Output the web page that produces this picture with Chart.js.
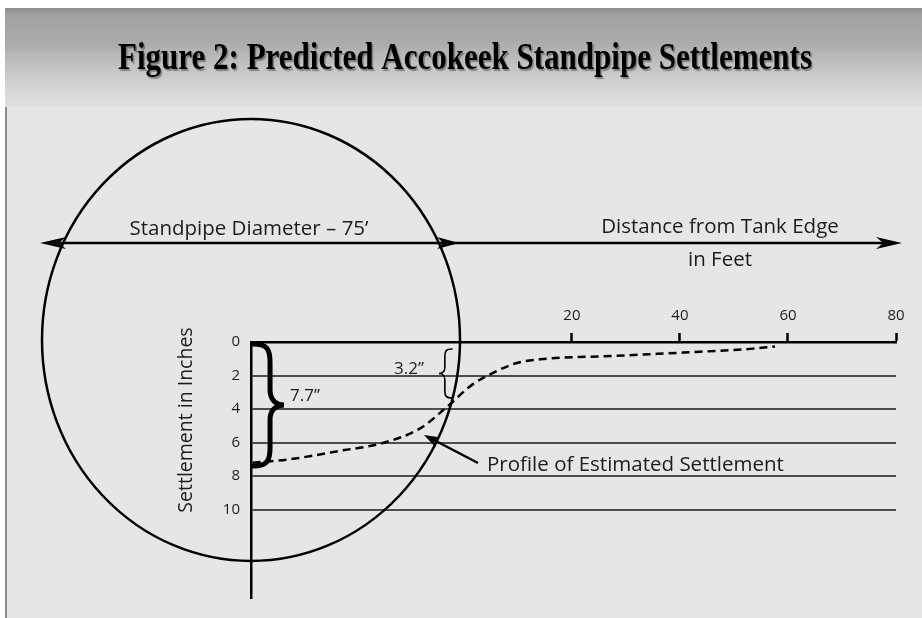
<!DOCTYPE html>
<html>
<head>
<meta charset="utf-8">
<title>Figure 2: Predicted Accokeek Standpipe Settlements</title>
<script src="https://cdn.jsdelivr.net/npm/chart.js@4.4.0/dist/chart.umd.min.js"></script>
<style>
  html, body { margin: 0; padding: 0; background: #ffffff; }
  canvas { display: block; }
</style>
</head>
<body>
<canvas id="settleChart" width="922" height="618"></canvas>
<script>
// Profile of estimated settlement
// distance from tank edge (ft, negative = under the tank) and settlement (in)
const distanceFt   = [-39.1, -32.2, -23.0, -15.0, -8.1, -3.1, 1.7, 6.7, 9.8, 14.1, 28.3, 40.6, 53.0, 57.6];
const settlementIn = [7.2, 6.99, 6.49, 6.02, 5.15, 3.86, 2.51, 1.64, 1.25, 1.03, 0.82, 0.63, 0.41, 0.27];

const xTickValues = [20, 40, 60, 80];
const yTickValues = [0, 2, 4, 6, 8, 10];

const FONT = '"Open Sans", "Noto Sans", sans-serif';
const INK = '#1c1c1c';

// filled arrow head with a notched back
function arrowHead(ctx, tipX, tipY, dx, dy, len, half) {
    const n = Math.hypot(dx, dy);
    const ux = dx / n, uy = dy / n;
    const px = -uy, py = ux;
    const bx = tipX - ux * len, by = tipY - uy * len;
    const nx = tipX - ux * len * 0.72, ny = tipY - uy * len * 0.72;
    ctx.beginPath();
    ctx.moveTo(tipX, tipY);
    ctx.lineTo(bx + px * half, by + py * half);
    ctx.lineTo(nx, ny);
    ctx.lineTo(bx - px * half, by - py * half);
    ctx.closePath();
    ctx.fill();
}

// curly brace, dir = 1 points right "}", dir = -1 points left "{"
function brace(ctx, x, top, bottom, width, dir, lw) {
    const h = bottom - top, mid = (top + bottom) / 2;
    const xm = x + dir * width * 0.55, xt = x + dir * width;
    ctx.beginPath();
    ctx.moveTo(x, top);
    ctx.bezierCurveTo(x + dir * width * 0.45, top, xm, top + h * 0.04, xm, top + h * 0.15);
    ctx.lineTo(xm, mid - h * 0.12);
    ctx.bezierCurveTo(xm, mid - h * 0.03, xt - dir * width * 0.2, mid, xt, mid);
    ctx.bezierCurveTo(xt - dir * width * 0.2, mid, xm, mid + h * 0.03, xm, mid + h * 0.12);
    ctx.lineTo(xm, bottom - h * 0.15);
    ctx.bezierCurveTo(xm, bottom - h * 0.04, x + dir * width * 0.45, bottom, x, bottom);
    ctx.lineWidth = lw;
    ctx.lineCap = 'round';
    ctx.stroke();
}

const figurePlugin = {
    id: 'figurePlugin',
    beforeDraw(chart) {
        const ctx = chart.ctx;
        ctx.save();
        ctx.fillStyle = '#ffffff';
        ctx.fillRect(0, 0, 922, 618);
        ctx.fillStyle = '#e6e6e6';
        ctx.fillRect(5, 8, 917, 610);

        // header band
        const g = ctx.createLinearGradient(0, 8, 0, 107);
        g.addColorStop(0, '#8e8e8e');
        g.addColorStop(0.08, '#a2a2a2');
        g.addColorStop(0.35, '#ababab');
        g.addColorStop(0.6, '#c4c4c4');
        g.addColorStop(0.85, '#d8d8d8');
        g.addColorStop(1, '#e0e0e0');
        ctx.fillStyle = g;
        ctx.fillRect(5, 8, 917, 99);

        // left frame line
        ctx.fillStyle = '#8c8c8c';
        ctx.fillRect(5, 107, 2, 511);

        // title, condensed bold serif
        const title = 'Figure 2: Predicted Accokeek Standpipe Settlements';
        ctx.font = 'bold 37px "Liberation Serif", "DejaVu Serif", serif';
        const w = ctx.measureText(title).width;
        ctx.translate(465, 69);
        ctx.scale(694 / w, 1);
        ctx.textAlign = 'center';
        ctx.textBaseline = 'alphabetic';
        ctx.shadowColor = 'rgba(0,0,0,0.35)';
        ctx.shadowOffsetX = 1.5;
        ctx.shadowOffsetY = 1.5;
        ctx.shadowBlur = 1;
        ctx.fillStyle = '#000000';
        ctx.fillText(title, 0, 0);
        ctx.restore();
    },
    afterDraw(chart) {
        const ctx = chart.ctx;
        const xs = chart.scales.x, ys = chart.scales.y;
        ctx.save();
        ctx.strokeStyle = '#000000';
        ctx.fillStyle = '#000000';

        // standpipe outline
        const cx = xs.getPixelForValue(xs.min);
        const cy = ys.getPixelForValue(-0.12);
        ctx.beginPath();
        ctx.ellipse(cx, cy, 209, 221, 0, 0, Math.PI * 2);
        ctx.lineWidth = 2.5;
        ctx.stroke();

        // dimension arrow
        const ay = 243;
        ctx.beginPath();
        ctx.moveTo(50, ay);
        ctx.lineTo(890, ay);
        ctx.lineWidth = 2.5;
        ctx.stroke();
        arrowHead(ctx, 40, ay, -1, 0, 26, 6);
        arrowHead(ctx, 459, ay, 1, 0, 22, 6);
        arrowHead(ctx, 902, ay, 1, 0, 26, 6);

        // pointer to the profile
        ctx.beginPath();
        ctx.moveTo(478, 463);
        ctx.lineTo(434, 440);
        ctx.lineWidth = 2.5;
        ctx.stroke();
        arrowHead(ctx, 424, 435, -53, -28, 16, 5.5);

        // braces
        brace(ctx, 253, 344, 466, 31, 1, 5);
        brace(ctx, 452, 349, 398, 13, -1, 1.6);

        // text
        ctx.fillStyle = INK;
        ctx.textBaseline = 'middle';
        ctx.textAlign = 'center';
        ctx.font = '20.5px ' + FONT;
        ctx.fillText('Standpipe Diameter \u2013 75\u2019', 249, 229);
        ctx.fillText('Distance from Tank Edge', 720, 227);
        ctx.fillText('in Feet', 720, 260);
        ctx.textAlign = 'left';
        ctx.fillText('Profile of Estimated Settlement', 487, 465);
        ctx.textAlign = 'center';
        ctx.font = '17px ' + FONT;
        ctx.fillText('7.7\u201D', 305, 396);
        ctx.fillText('3.2\u201D', 409, 369);

        ctx.translate(186, 420);
        ctx.rotate(-Math.PI / 2);
        ctx.font = '19.5px ' + FONT;
        ctx.fillText('Settlement in Inches', 0, 0);
        ctx.restore();
    }
};

const points = distanceFt.map((d, i) => ({ x: d, y: settlementIn[i] }));

new Chart(document.getElementById('settleChart'), {
    type: 'line',
    data: {
        datasets: [{
            label: 'Profile of Estimated Settlement',
            data: points,
            borderColor: '#000000',
            borderWidth: 2.5,
            borderDash: [8, 5],
            pointRadius: 0,
            fill: false,
            cubicInterpolationMode: 'monotone'
        }]
    },
    options: {
        responsive: false,
        animation: false,
        layout: { padding: { left: 191, top: 302, right: 26, bottom: 15 } },
        plugins: {
            legend: { display: false },
            tooltip: { enabled: false },
            title: { display: false }
        },
        scales: {
            x: {
                type: 'linear',
                position: 'top',
                min: -39.4,
                max: 80,
                afterFit: (s) => { s.height = 40; },
                afterBuildTicks: (s) => { s.ticks = xTickValues.map(v => ({ value: v })); },
                grid: {
                    drawOnChartArea: false,
                    drawTicks: true,
                    tickLength: 9,
                    tickWidth: 2.5,
                    tickColor: '#000000'
                },
                border: { display: true, color: '#000000', width: 2.5 },
                ticks: {
                    color: INK,
                    padding: 8,
                    maxRotation: 0,
                    font: { family: FONT, size: 15 }
                }
            },
            y: {
                type: 'linear',
                position: 'left',
                reverse: true,
                min: 0,
                max: 15.26,
                afterFit: (s) => { s.width = 60; },
                afterBuildTicks: (s) => { s.ticks = yTickValues.map(v => ({ value: v })); },
                grid: {
                    drawTicks: false,
                    color: (c) => c.tick && c.tick.value === 0 ? '#000000' : '#4d4d4d',
                    lineWidth: 2
                },
                border: { display: true, color: '#000000', width: 2.5 },
                ticks: {
                    color: INK,
                    padding: 11,
                    font: { family: FONT, size: 15 }
                }
            }
        }
    },
    plugins: [figurePlugin]
});
</script>
</body>
</html>
